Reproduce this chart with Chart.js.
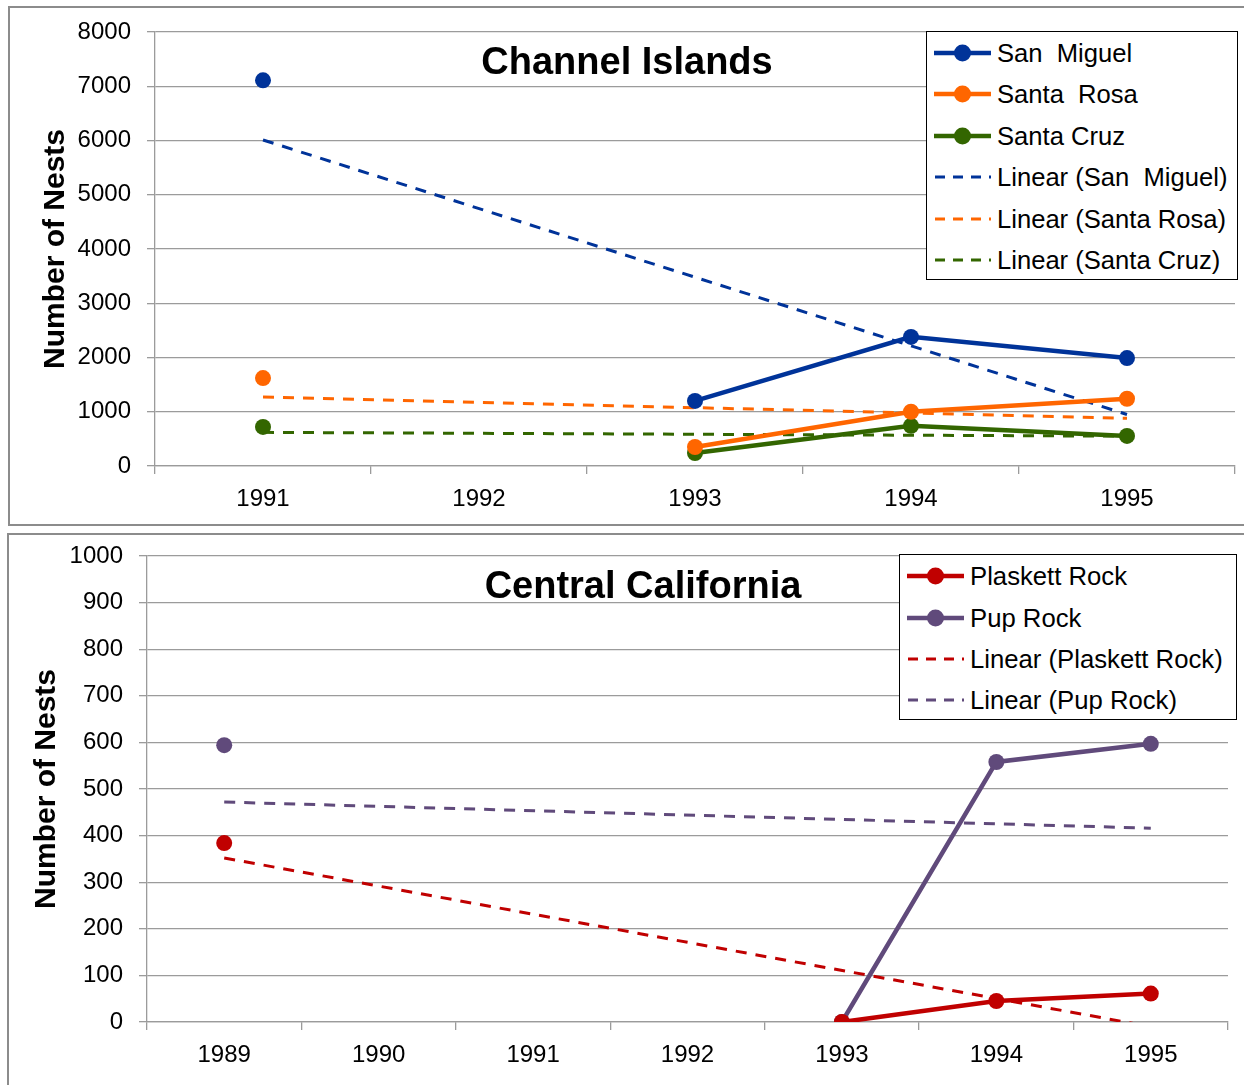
<!DOCTYPE html>
<html>
<head>
<meta charset="utf-8">
<script src="https://cdn.jsdelivr.net/npm/chart.js@4.4.1/dist/chart.umd.min.js"></script>
<style>
  body { margin: 0; background: #fff; font-family: "Liberation Sans", Arial, sans-serif; overflow: hidden; }
  .panel { position: absolute; border: 2px solid #8c8c8c; box-sizing: border-box; background: #fff; }
  #top { left: 8px; top: 6px; width: 1250px; height: 520px; }
  #bottom { left: 7px; top: 533px; width: 1250px; height: 560px; }
  canvas { position: absolute; left: 0; top: 0; }
  .legend { position: absolute; border: 1.5px solid #000; background: #fff; box-sizing: border-box; }
  .legend .row { position: absolute; left: 7px; height: 30px; display: flex; align-items: center;
                 white-space: pre; color: #000; }
  .legend svg { margin-right: 6px; }
</style>
</head>
<body>
<div class="panel" id="top">
  <canvas id="islandsChart" width="1233" height="515"></canvas>
  <div class="legend" id="islandsLegend" style="left:916px; top:23px; width:312px; height:249px; font-size:25.6px;"></div>
</div>
<div class="panel" id="bottom">
  <canvas id="centralChart" width="1234" height="549"></canvas>
  <div class="legend" id="centralLegend" style="left:890px; top:19px; width:338px; height:166px; font-size:25.7px;"></div>
</div>

<script>
// Channel Islands
const islandYears = ["1991", "1992", "1993", "1994", "1995"];
const sanMiguel = [7110, null, 1200, 2380, 1990];
const santaRosa = [1620, null, 350, 1000, 1240];
const santaCruz = [720, null, 240, 740, 555];
const sanMiguelTrend = [6010, null, null, null, 950];
const santaRosaTrend = [1270, null, null, null, 880];
const santaCruzTrend = [620, null, null, null, 550];

// Central California
const centralYears = ["1989", "1990", "1991", "1992", "1993", "1994", "1995"];
const plaskettRock = [384, null, null, null, 0, 45, 61];
const pupRock = [594, null, null, null, 0, 558, 597];
const plaskettTrend = [352, null, null, null, null, null, -10];
const pupTrend = [472, null, null, null, null, null, 416];

const FONT = "'Liberation Sans', Arial, sans-serif";
const GRID = "#9b9b9b";

const titlePlugin = {
  id: "panelTitle",
  afterDraw(chart, args, opts) {
    const ctx = chart.ctx;
    ctx.save();
    ctx.font = "bold 38px " + FONT;
    ctx.fillStyle = "#000";
    ctx.textAlign = "center";
    ctx.textBaseline = "alphabetic";
    ctx.fillText(opts.text, opts.x, opts.y);
    ctx.restore();
  }
};

function series(label, data, color) {
  return {
    label, data,
    borderColor: color, backgroundColor: color,
    borderWidth: 4.5,
    pointRadius: 8, pointHoverRadius: 8,
    pointBackgroundColor: color, pointBorderColor: color, pointBorderWidth: 0,
    spanGaps: false, tension: 0
  };
}

function trend(label, data, color) {
  return {
    label, data,
    borderColor: color, backgroundColor: color,
    borderWidth: 3, borderDash: [11, 9],
    pointRadius: 0, pointHoverRadius: 0,
    spanGaps: true, tension: 0, trend: true
  };
}

function buildLegend(id, datasets, rowTops) {
  const box = document.getElementById(id);
  datasets.forEach((ds, i) => {
    const row = document.createElement("div");
    row.className = "row";
    row.style.top = rowTops[i] + "px";
    const line = ds.trend
      ? `<line x1="1" y1="10" x2="57" y2="10" stroke="${ds.borderColor}" stroke-width="3" stroke-dasharray="10 8"/>`
      : `<line x1="0" y1="10" x2="57" y2="10" stroke="${ds.borderColor}" stroke-width="4.5"/>` +
        `<circle cx="28.5" cy="10" r="8.5" fill="${ds.borderColor}"/>`;
    row.innerHTML = `<svg width="57" height="20">${line}</svg><span>${ds.label}</span>`;
    box.appendChild(row);
  });
}

function makeChart(canvasId, labels, datasets, cfg) {
  const ctx = document.getElementById(canvasId).getContext("2d");
  return new Chart(ctx, {
    type: "line",
    data: { labels, datasets },
    plugins: [titlePlugin],
    options: {
      responsive: false,
      animation: false,
      events: [],
      layout: { padding: cfg.padding },
      plugins: {
        legend: { display: false },
        tooltip: { enabled: false },
        panelTitle: cfg.title
      },
      scales: {
        x: {
          offset: true,
          grid: { offset: true, drawOnChartArea: false, color: GRID, lineWidth: 1.3, tickLength: 8 },
          border: { color: GRID, width: 1.3 },
          ticks: { color: "#000", font: { family: FONT, size: 24 }, padding: 11, maxRotation: 0 },
          afterFit(scale) { scale.height = cfg.xHeight; }
        },
        y: {
          min: 0, max: cfg.max,
          grid: { color: GRID, lineWidth: 1.3, tickLength: 8 },
          border: { color: GRID, width: 1.3 },
          ticks: {
            stepSize: cfg.step, color: "#000", padding: 16,
            font: { family: FONT, size: 24 },
            callback: v => String(v)
          },
          title: {
            display: true, text: "Number of Nests", color: "#000",
            font: { family: FONT, size: 30, weight: "bold" }
          },
          afterFit(scale) {
            scale.width = cfg.yWidth;
            scale.paddingTop = 0;
            scale.paddingBottom = 0;
          }
        }
      }
    }
  });
}

const islandSets = [
  series("San  Miguel", sanMiguel, "#003399"),
  series("Santa  Rosa", santaRosa, "#ff6600"),
  series("Santa Cruz", santaCruz, "#336600"),
  trend("Linear (San  Miguel)", sanMiguelTrend, "#003399"),
  trend("Linear (Santa Rosa)", santaRosaTrend, "#ff6600"),
  trend("Linear (Santa Cruz)", santaCruzTrend, "#336600")
];

const centralSets = [
  series("Plaskett Rock", plaskettRock, "#c00000"),
  series("Pup Rock", pupRock, "#604a7b"),
  trend("Linear (Plaskett Rock)", plaskettTrend, "#c00000"),
  trend("Linear (Pup Rock)", pupTrend, "#604a7b")
];

makeChart("islandsChart", islandYears, islandSets, {
  padding: { left: 24, top: 24, right: 5, bottom: 0 },
  max: 8000, step: 1000, xHeight: 57, yWidth: 121,
  title: { text: "Channel Islands", x: 617, y: 66 }
});

makeChart("centralChart", centralYears, centralSets, {
  padding: { left: 16, top: 21, right: 15, bottom: 0 },
  max: 1000, step: 100, xHeight: 62, yWidth: 122,
  title: { text: "Central California", x: 634, y: 63 }
});

buildLegend("islandsLegend", islandSets, [6, 47, 89, 130, 172, 213]);
buildLegend("centralLegend", centralSets, [6, 48, 89, 130]);
</script>
</body>
</html>
